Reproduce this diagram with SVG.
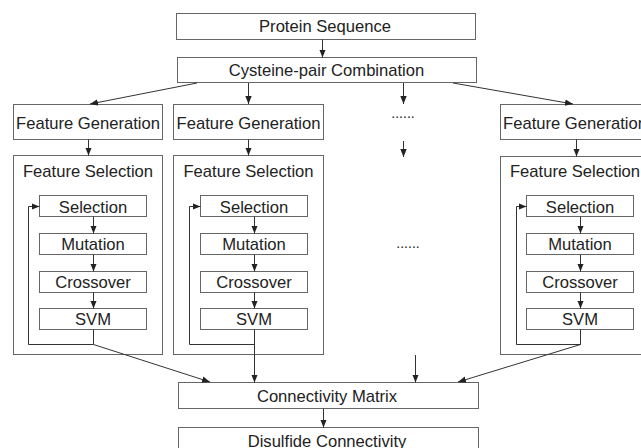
<svg xmlns="http://www.w3.org/2000/svg" width="641" height="448" viewBox="0 0 641 448">
<style>
.box{fill:#fff;stroke:#666;stroke-width:1}
.t{font-family:"Liberation Sans",Arial,sans-serif;font-size:16.6px;fill:#222;text-anchor:middle}
.c{fill:none;stroke:#333;stroke-width:1}
.d{font-family:"Liberation Sans",Arial,sans-serif;font-size:14px;fill:#222;text-anchor:middle}
</style>
<defs>
<marker id="ah" viewBox="0 0 8 8" refX="8" refY="4" markerWidth="8" markerHeight="8" markerUnits="userSpaceOnUse" orient="auto">
<path d="M0,0.8 L8,4 L0,7.2 Z" fill="#222"/>
</marker>
</defs>
<rect width="641" height="448" fill="#fff"/>

<g id="protein"><rect class="box" x="176.5" y="13.5" width="299" height="26"/><text class="t" x="325" y="32">Protein Sequence</text></g>
<g id="cysteine"><rect class="box" x="177.5" y="57.5" width="299" height="25"/><text class="t" x="326.5" y="76">Cysteine-pair Combination</text></g>

<g id="fg1"><rect class="box" x="13.5" y="104.5" width="149" height="35"/><text class="t" x="88" y="128.5">Feature Generation</text></g>
<g id="fg2"><rect class="box" x="173.5" y="104.5" width="150" height="35"/><text class="t" x="248.5" y="128.5">Feature Generation</text></g>
<g id="fg3"><rect class="box" x="500.5" y="104.5" width="150" height="35"/><text class="t" x="575" y="128.5">Feature Generation</text></g>

<g id="fs1"><rect class="box" x="13.5" y="155.5" width="149" height="199"/><text class="t" x="88" y="177">Feature Selection</text>
<rect class="box" x="39.5" y="195.5" width="107" height="21"/><text class="t" x="93" y="212.5">Selection</text>
<rect class="box" x="39.5" y="233.5" width="107" height="21"/><text class="t" x="93" y="250">Mutation</text>
<rect class="box" x="39.5" y="271.5" width="107" height="21"/><text class="t" x="93" y="287.5">Crossover</text>
<rect class="box" x="39.5" y="308.5" width="107" height="21"/><text class="t" x="93" y="325">SVM</text></g>

<g id="fs2"><rect class="box" x="173.5" y="155.5" width="150" height="199"/><text class="t" x="248.5" y="177">Feature Selection</text>
<rect class="box" x="200.5" y="195.5" width="107" height="21"/><text class="t" x="254" y="212.5">Selection</text>
<rect class="box" x="200.5" y="233.5" width="107" height="21"/><text class="t" x="254" y="250">Mutation</text>
<rect class="box" x="200.5" y="271.5" width="107" height="21"/><text class="t" x="254" y="287.5">Crossover</text>
<rect class="box" x="200.5" y="308.5" width="107" height="21"/><text class="t" x="254" y="325">SVM</text></g>

<g id="fs3"><rect class="box" x="500.5" y="156.5" width="150" height="198"/><text class="t" x="575" y="177">Feature Selection</text>
<rect class="box" x="526.5" y="195.5" width="107" height="21"/><text class="t" x="580" y="212.5">Selection</text>
<rect class="box" x="526.5" y="233.5" width="107" height="21"/><text class="t" x="580" y="250">Mutation</text>
<rect class="box" x="526.5" y="271.5" width="107" height="21"/><text class="t" x="580" y="287.5">Crossover</text>
<rect class="box" x="526.5" y="308.5" width="107" height="21"/><text class="t" x="580" y="325">SVM</text></g>

<g id="dots"><text class="d" x="403" y="118">......</text><text class="d" x="408" y="248">......</text></g>

<g id="cm"><rect class="box" x="178.5" y="382.5" width="300" height="26"/><text class="t" x="327" y="402">Connectivity Matrix</text></g>
<g id="dc"><rect class="box" x="178.5" y="427.5" width="300" height="26"/><text class="t" x="327" y="447">Disulfide Connectivity</text></g>

<g id="connectors">
<line class="c" x1="322.5" y1="39.5" x2="322.5" y2="57.5" marker-end="url(#ah)"/>
<line class="c" x1="197" y1="83" x2="90" y2="104" marker-end="url(#ah)"/>
<line class="c" x1="248.5" y1="83" x2="248.5" y2="104" marker-end="url(#ah)"/>
<line class="c" x1="403.5" y1="83" x2="403.5" y2="104" marker-end="url(#ah)"/>
<line class="c" x1="453" y1="83" x2="573" y2="104" marker-end="url(#ah)"/>

<line class="c" x1="88.5" y1="139.5" x2="88.5" y2="155.5" marker-end="url(#ah)"/>
<line class="c" x1="248.5" y1="139.5" x2="248.5" y2="155.5" marker-end="url(#ah)"/>
<line class="c" x1="403.5" y1="141" x2="403.5" y2="157" marker-end="url(#ah)"/>
<line class="c" x1="576.5" y1="139.5" x2="576.5" y2="156.5" marker-end="url(#ah)"/>

<line class="c" x1="93.5" y1="216.5" x2="93.5" y2="233.5" marker-end="url(#ah)"/>
<line class="c" x1="93.5" y1="254.5" x2="93.5" y2="271.5" marker-end="url(#ah)"/>
<line class="c" x1="93.5" y1="292.5" x2="93.5" y2="308.5" marker-end="url(#ah)"/>
<polyline class="c" points="93.5,329.5 93.5,344.5 28.5,344.5 28.5,206.5 39.5,206.5" marker-end="url(#ah)"/>
<line class="c" x1="93.5" y1="344.5" x2="210" y2="382" marker-end="url(#ah)"/>

<line class="c" x1="254.5" y1="216.5" x2="254.5" y2="233.5" marker-end="url(#ah)"/>
<line class="c" x1="254.5" y1="254.5" x2="254.5" y2="271.5" marker-end="url(#ah)"/>
<line class="c" x1="254.5" y1="292.5" x2="254.5" y2="308.5" marker-end="url(#ah)"/>
<polyline class="c" points="254.5,344.5 189.5,344.5 189.5,206.5 200.5,206.5" marker-end="url(#ah)"/>
<line class="c" x1="254.5" y1="329.5" x2="254.5" y2="382.5" marker-end="url(#ah)"/>

<line class="c" x1="580.5" y1="216.5" x2="580.5" y2="233.5" marker-end="url(#ah)"/>
<line class="c" x1="580.5" y1="254.5" x2="580.5" y2="271.5" marker-end="url(#ah)"/>
<line class="c" x1="580.5" y1="292.5" x2="580.5" y2="308.5" marker-end="url(#ah)"/>
<polyline class="c" points="580.5,329.5 580.5,344.5 516.5,344.5 516.5,206.5 526.5,206.5" marker-end="url(#ah)"/>
<line class="c" x1="580.5" y1="344.5" x2="458" y2="382" marker-end="url(#ah)"/>

<line class="c" x1="415.5" y1="355" x2="415.5" y2="382.5" marker-end="url(#ah)"/>
<line class="c" x1="323.5" y1="408.5" x2="323.5" y2="427.5" marker-end="url(#ah)"/>
</g>
</svg>
